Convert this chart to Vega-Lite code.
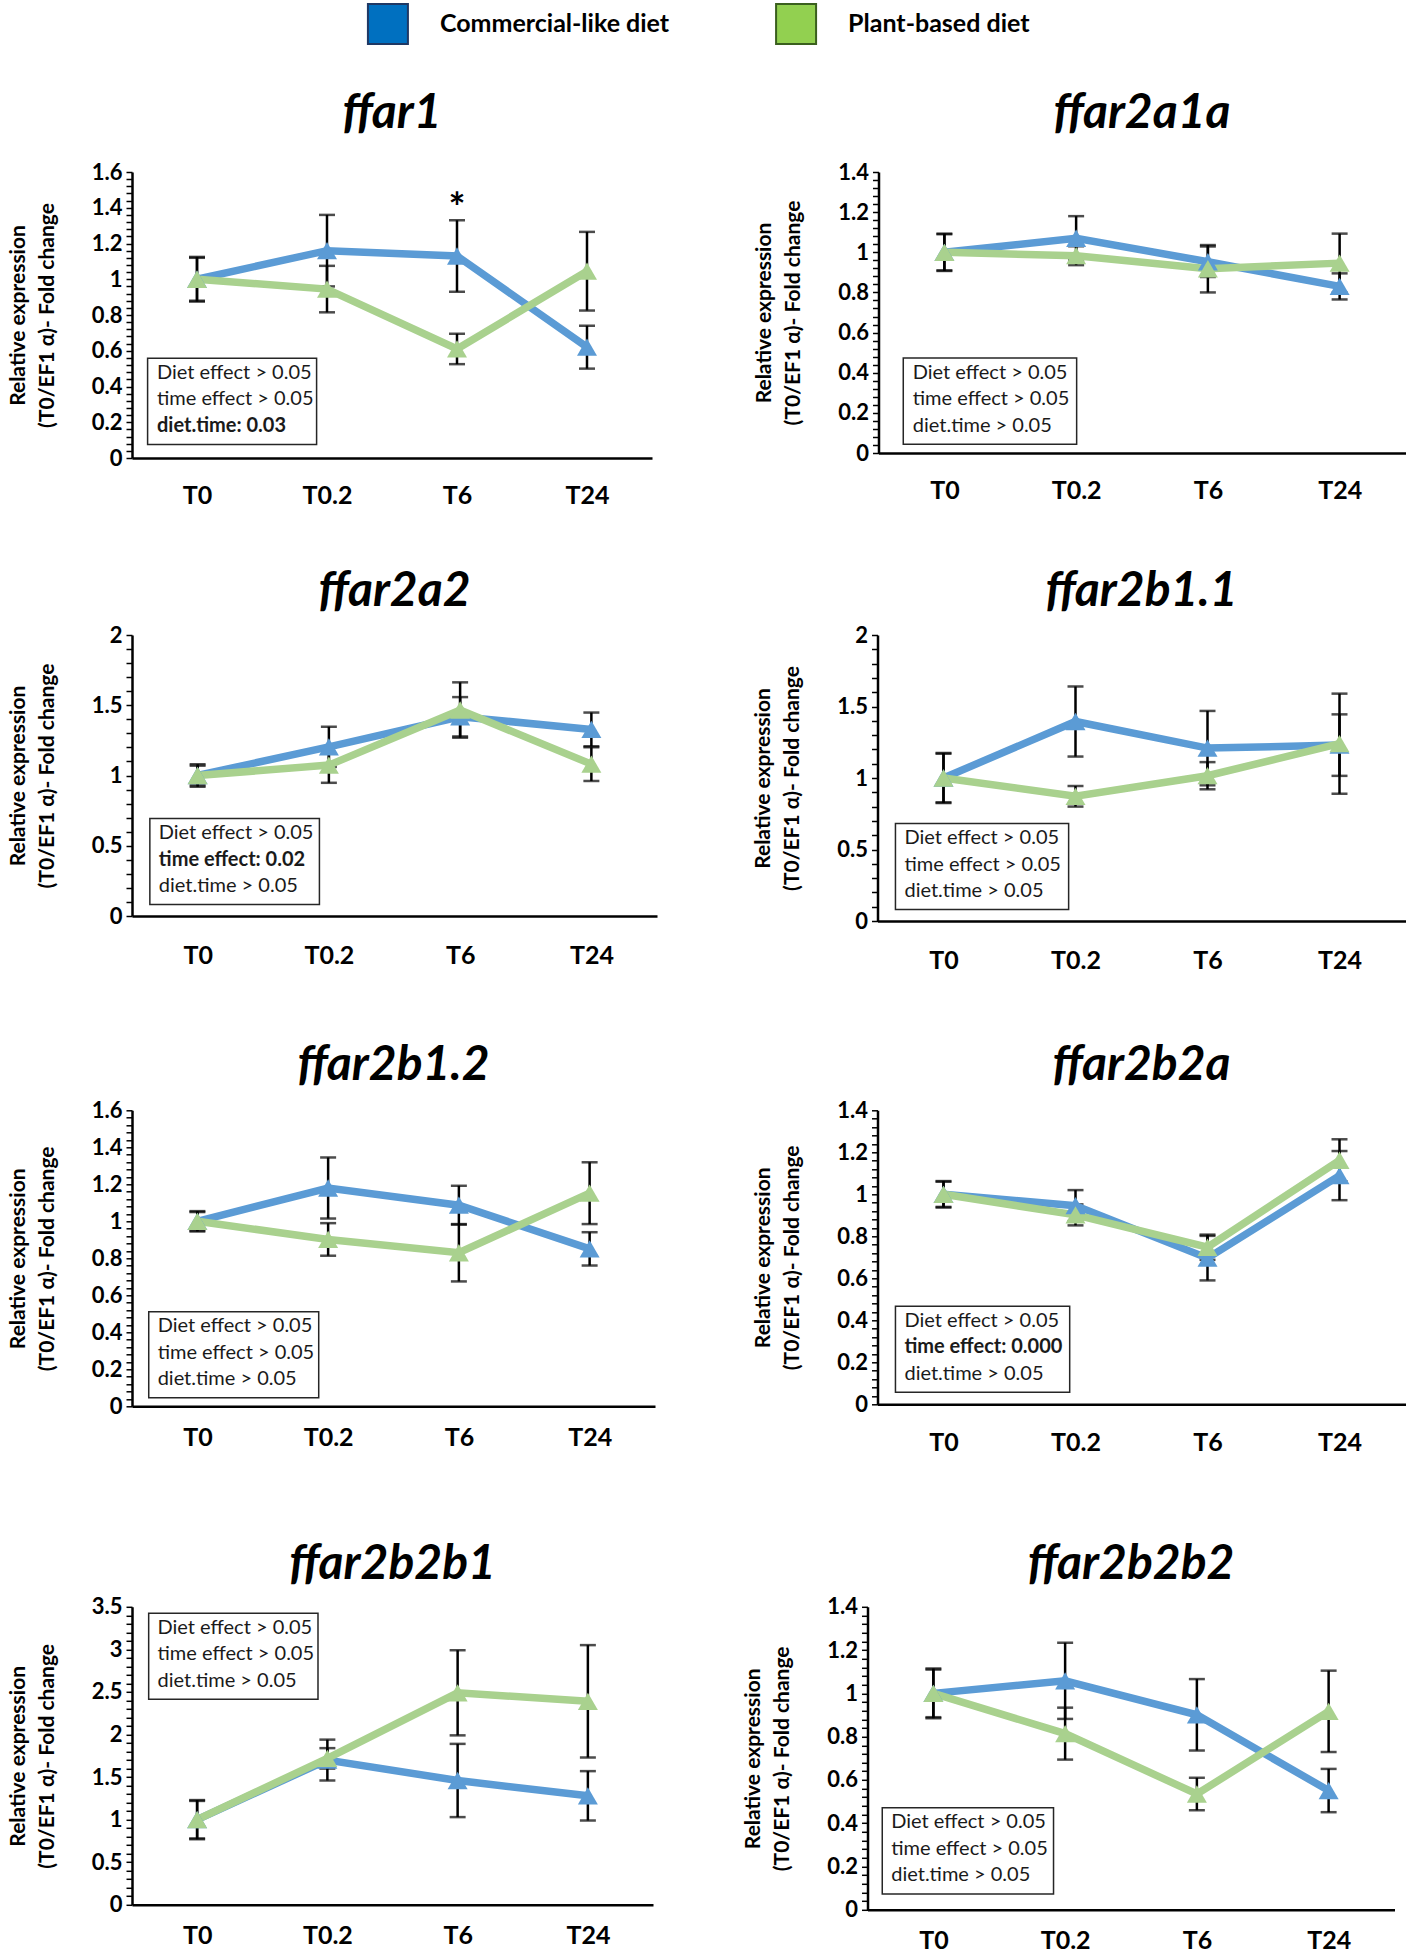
{
"$schema": "https://vega.github.io/schema/vega-lite/v6.json",
"background": "white",
"padding": {"left": 7, "top": 0, "right": 0, "bottom": 0},
"config": {
  "view": {"stroke": null},
  "font": "Lato",
  "title": {"font": "Lato", "fontSize": 48, "fontWeight": "bold", "fontStyle": "italic", "color": "black", "anchor": "middle", "frame": "group"},
  "axis": {"labelFont": "Lato", "titleFont": "Lato", "labelColor": "black", "titleColor": "black", "domainColor": "black", "tickColor": "black", "grid": false},
  "axisX": {"ticks": false, "labelAngle": 0, "labelPadding": 25, "labelFontSize": 25, "labelFontWeight": "bold", "domainWidth": 2.5},
  "axisY": {"labelFontSize": 22, "labelFontWeight": "bold", "labelPadding": 4, "tickSize": 6, "tickWidth": 1.5, "domainWidth": 2.5, "titleFontSize": 21, "titleFontWeight": "bold", "titleLineHeight": 29, "titlePadding": 34, "labelOverlap": false}
},
"resolve": {"scale": {"color": "independent", "stroke": "independent"}},
"datasets": {
  "ffar1": [
    {"diet": "Commercial-like diet", "time": "T0", "hours": 0, "mean": 1.0, "err": 0.12},
    {"diet": "Commercial-like diet", "time": "T0.2", "hours": 0.2, "mean": 1.16, "err": 0.2},
    {"diet": "Commercial-like diet", "time": "T6", "hours": 6, "mean": 1.13, "err": 0.2},
    {"diet": "Commercial-like diet", "time": "T24", "hours": 24, "mean": 0.62, "err": 0.12},
    {"diet": "Plant-based diet", "time": "T0", "hours": 0, "mean": 1.0, "err": 0.125},
    {"diet": "Plant-based diet", "time": "T0.2", "hours": 0.2, "mean": 0.945, "err": 0.13},
    {"diet": "Plant-based diet", "time": "T6", "hours": 6, "mean": 0.61, "err": 0.085},
    {"diet": "Plant-based diet", "time": "T24", "hours": 24, "mean": 1.045, "err": 0.22}
  ],
  "ffar2a1a": [
    {"diet": "Commercial-like diet", "time": "T0", "hours": 0, "mean": 1.0, "err": 0.09},
    {"diet": "Commercial-like diet", "time": "T0.2", "hours": 0.2, "mean": 1.07, "err": 0.11},
    {"diet": "Commercial-like diet", "time": "T6", "hours": 6, "mean": 0.953, "err": 0.076},
    {"diet": "Commercial-like diet", "time": "T24", "hours": 24, "mean": 0.83, "err": 0.065},
    {"diet": "Plant-based diet", "time": "T0", "hours": 0, "mean": 1.0, "err": 0.093},
    {"diet": "Plant-based diet", "time": "T0.2", "hours": 0.2, "mean": 0.983, "err": 0.047},
    {"diet": "Plant-based diet", "time": "T6", "hours": 6, "mean": 0.918, "err": 0.118},
    {"diet": "Plant-based diet", "time": "T24", "hours": 24, "mean": 0.946, "err": 0.147}
  ],
  "ffar2a2": [
    {"diet": "Commercial-like diet", "time": "T0", "hours": 0, "mean": 1.0, "err": 0.07},
    {"diet": "Commercial-like diet", "time": "T0.2", "hours": 0.2, "mean": 1.204, "err": 0.143},
    {"diet": "Commercial-like diet", "time": "T6", "hours": 6, "mean": 1.418, "err": 0.14},
    {"diet": "Commercial-like diet", "time": "T24", "hours": 24, "mean": 1.328, "err": 0.12},
    {"diet": "Plant-based diet", "time": "T0", "hours": 0, "mean": 1.0, "err": 0.08},
    {"diet": "Plant-based diet", "time": "T0.2", "hours": 0.2, "mean": 1.074, "err": 0.126},
    {"diet": "Plant-based diet", "time": "T6", "hours": 6, "mean": 1.466, "err": 0.197},
    {"diet": "Plant-based diet", "time": "T24", "hours": 24, "mean": 1.081, "err": 0.12}
  ],
  "ffar2b1_1": [
    {"diet": "Commercial-like diet", "time": "T0", "hours": 0, "mean": 1.0, "err": 0.175},
    {"diet": "Commercial-like diet", "time": "T0.2", "hours": 0.2, "mean": 1.395, "err": 0.245},
    {"diet": "Commercial-like diet", "time": "T6", "hours": 6, "mean": 1.209, "err": 0.26},
    {"diet": "Commercial-like diet", "time": "T24", "hours": 24, "mean": 1.23, "err": 0.215},
    {"diet": "Plant-based diet", "time": "T0", "hours": 0, "mean": 1.0, "err": 0.17},
    {"diet": "Plant-based diet", "time": "T0.2", "hours": 0.2, "mean": 0.872, "err": 0.072},
    {"diet": "Plant-based diet", "time": "T6", "hours": 6, "mean": 1.016, "err": 0.095},
    {"diet": "Plant-based diet", "time": "T24", "hours": 24, "mean": 1.24, "err": 0.35}
  ],
  "ffar2b1_2": [
    {"diet": "Commercial-like diet", "time": "T0", "hours": 0, "mean": 1.0, "err": 0.05},
    {"diet": "Commercial-like diet", "time": "T0.2", "hours": 0.2, "mean": 1.18, "err": 0.165},
    {"diet": "Commercial-like diet", "time": "T6", "hours": 6, "mean": 1.087, "err": 0.105},
    {"diet": "Commercial-like diet", "time": "T24", "hours": 24, "mean": 0.851, "err": 0.09},
    {"diet": "Plant-based diet", "time": "T0", "hours": 0, "mean": 1.0, "err": 0.055},
    {"diet": "Plant-based diet", "time": "T0.2", "hours": 0.2, "mean": 0.902, "err": 0.088},
    {"diet": "Plant-based diet", "time": "T6", "hours": 6, "mean": 0.83, "err": 0.155},
    {"diet": "Plant-based diet", "time": "T24", "hours": 24, "mean": 1.152, "err": 0.167}
  ],
  "ffar2b2a": [
    {"diet": "Commercial-like diet", "time": "T0", "hours": 0, "mean": 1.0, "err": 0.063},
    {"diet": "Commercial-like diet", "time": "T0.2", "hours": 0.2, "mean": 0.946, "err": 0.074},
    {"diet": "Commercial-like diet", "time": "T6", "hours": 6, "mean": 0.696, "err": 0.106},
    {"diet": "Commercial-like diet", "time": "T24", "hours": 24, "mean": 1.089, "err": 0.117},
    {"diet": "Plant-based diet", "time": "T0", "hours": 0, "mean": 1.0, "err": 0.06},
    {"diet": "Plant-based diet", "time": "T0.2", "hours": 0.2, "mean": 0.902, "err": 0.05},
    {"diet": "Plant-based diet", "time": "T6", "hours": 6, "mean": 0.748, "err": 0.06},
    {"diet": "Plant-based diet", "time": "T24", "hours": 24, "mean": 1.162, "err": 0.1}
  ],
  "ffar2b2b1": [
    {"diet": "Commercial-like diet", "time": "T0", "hours": 0, "mean": 1.0, "err": 0.23},
    {"diet": "Commercial-like diet", "time": "T0.2", "hours": 0.2, "mean": 1.7, "err": 0.24},
    {"diet": "Commercial-like diet", "time": "T6", "hours": 6, "mean": 1.46, "err": 0.43},
    {"diet": "Commercial-like diet", "time": "T24", "hours": 24, "mean": 1.28, "err": 0.29},
    {"diet": "Plant-based diet", "time": "T0", "hours": 0, "mean": 1.0, "err": 0.22},
    {"diet": "Plant-based diet", "time": "T0.2", "hours": 0.2, "mean": 1.72, "err": 0.12},
    {"diet": "Plant-based diet", "time": "T6", "hours": 6, "mean": 2.49, "err": 0.5},
    {"diet": "Plant-based diet", "time": "T24", "hours": 24, "mean": 2.39, "err": 0.66}
  ],
  "ffar2b2b2": [
    {"diet": "Commercial-like diet", "time": "T0", "hours": 0, "mean": 1.0, "err": 0.115},
    {"diet": "Commercial-like diet", "time": "T0.2", "hours": 0.2, "mean": 1.058, "err": 0.176},
    {"diet": "Commercial-like diet", "time": "T6", "hours": 6, "mean": 0.901, "err": 0.165},
    {"diet": "Commercial-like diet", "time": "T24", "hours": 24, "mean": 0.551, "err": 0.1},
    {"diet": "Plant-based diet", "time": "T0", "hours": 0, "mean": 1.0, "err": 0.11},
    {"diet": "Plant-based diet", "time": "T0.2", "hours": 0.2, "mean": 0.814, "err": 0.12},
    {"diet": "Plant-based diet", "time": "T6", "hours": 6, "mean": 0.535, "err": 0.075},
    {"diet": "Plant-based diet", "time": "T24", "hours": 24, "mean": 0.917, "err": 0.188}
  ],
  "ns": [
    {"line": 0, "text": "Diet effect > 0.05", "sig": false},
    {"line": 1, "text": "time effect > 0.05", "sig": false},
    {"line": 2, "text": "diet.time > 0.05", "sig": false}
  ]
},
"spacing": 41,
"vconcat": [
  {
    "width": 920, "height": 44,
    "data": {"values": [{"diet": "Commercial-like diet"}, {"diet": "Plant-based diet"}]},
    "encoding": {"x": {"field": "diet", "type": "nominal", "scale": {"type": "point", "padding": 0.627}, "axis": null}},
    "layer": [
      {"mark": {"type": "square", "size": 1600, "filled": true, "strokeWidth": 2, "opacity": 1},
       "encoding": {"color": {"field": "diet", "type": "nominal", "scale": {"range": ["#0070C0", "#92D050"]}, "legend": null},
                    "stroke": {"field": "diet", "type": "nominal", "scale": {"range": ["#1F3864", "#3A5F1E"]}, "legend": null}}},
      {"mark": {"type": "text", "align": "left", "baseline": "middle", "dx": 52, "font": "Lato", "fontSize": 25, "fontWeight": "bold", "color": "black"},
       "encoding": {"text": {"field": "diet"}}}
    ]
  },
  {"spacing": 59, "vconcat": [
    {"spacing": 101.5, "hconcat": [
      {"width": 520, "height": 286, "title": {"text": "ffar1", "offset": 23.5},
       "resolve": {"scale": {"x": "independent", "y": "independent"}},
       "layer": [
        {"data": {"name": "ffar1"},
         "encoding": {
           "x": {"field": "time", "type": "ordinal", "scale": {"type": "point", "domain": ["T0", "T0.2", "T6", "T24"], "padding": 0.5}, "axis": {"title": null}},
           "y": {"field": "mean", "type": "quantitative", "scale": {"domain": [0, 1.6], "nice": false}, "axis": {"title": ["Relative expression", "(T0/EF1 α)- Fold change"], "values": [0,0.04,0.08,0.12,0.16,0.2,0.24,0.28,0.32,0.36,0.4,0.44,0.48,0.52,0.56,0.6,0.64,0.68,0.72,0.76,0.8,0.84,0.88,0.92,0.96,1,1.04,1.08,1.12,1.16,1.2,1.24,1.28,1.32,1.36,1.4,1.44,1.48,1.52,1.56,1.6], "labelExpr": "abs(datum.value*5-round(datum.value*5))<0.001?format(datum.value,'.1~f'):''"}}
         },
         "layer": [
           {"mark": {"type": "errorbar", "ticks": {"size": 16}, "thickness": 2.5, "color": "black"}, "encoding": {"yError": {"field": "err"}}},
           {"mark": {"type": "line", "strokeWidth": 7.5}, "encoding": {"color": {"field": "diet", "type": "nominal", "scale": {"domain": ["Commercial-like diet", "Plant-based diet"], "range": ["#5B9BD5", "#A9D18E"]}, "legend": null}, "order": {"field": "hours", "type": "quantitative"}}},
           {"mark": {"type": "point", "shape": "triangle-up", "filled": true, "size": 400, "opacity": 1}, "encoding": {"color": {"field": "diet", "type": "nominal", "scale": {"domain": ["Commercial-like diet", "Plant-based diet"], "range": ["#5B9BD5", "#A9D18E"]}, "legend": null}}}
         ]},
        {"data": {"values": [{"time": "T6", "label": "*"}]},
         "mark": {"type": "text", "font": "Lato", "fontSize": 40, "fontWeight": "bold", "baseline": "middle", "align": "center", "color": "black"},
         "encoding": {
           "x": {"field": "time", "type": "ordinal", "scale": {"type": "point", "domain": ["T0", "T0.2", "T6", "T24"], "padding": 0.5}, "axis": null},
           "y": {"datum": 1.39, "type": "quantitative", "scale": {"domain": [0, 1.6], "nice": false, "zero": false}, "axis": null},
           "text": {"field": "label", "type": "nominal"}
         }},
        {"data": {"values": [{"line": 0, "text": "Diet effect > 0.05", "sig": false}, {"line": 1, "text": "time effect > 0.05", "sig": false}, {"line": 2, "text": "diet.time: 0.03", "sig": true}]},
         "encoding": {"x": {"datum": 0.048, "type": "quantitative", "scale": {"domain": [0, 1], "nice": false}, "axis": null},
                      "y": {"field": "line", "type": "quantitative", "scale": {"domain": [-7.58, 3.21], "reverse": true, "nice": false}, "axis": null}},
         "layer": [
           {"transform": [{"filter": "datum.line == 0"}], "mark": {"type": "rect", "fill": "white", "stroke": "#262626", "strokeWidth": 1.5},
            "encoding": {"x": {"datum": 0.03, "type": "quantitative"}, "x2": {"datum": 0.355}, "y": {"datum": -0.55, "type": "quantitative"}, "y2": {"datum": 2.7}}},
           {"transform": [{"filter": "!datum.sig"}], "mark": {"type": "text", "align": "left", "baseline": "middle", "fontSize": 20, "fontWeight": "normal", "color": "#1a1a1a"}, "encoding": {"text": {"field": "text"}}},
           {"transform": [{"filter": "datum.sig"}], "mark": {"type": "text", "align": "left", "baseline": "middle", "fontSize": 20, "fontWeight": "bold", "color": "#1a1a1a"}, "encoding": {"text": {"field": "text"}}}
         ]}
       ]},
      {"width": 527, "height": 281, "title": {"text": "ffar2a1a", "offset": 23.5},
       "resolve": {"scale": {"x": "independent", "y": "independent"}},
       "layer": [
        {"data": {"name": "ffar2a1a"},
         "encoding": {
           "x": {"field": "time", "type": "ordinal", "scale": {"type": "point", "domain": ["T0", "T0.2", "T6", "T24"], "padding": 0.5}, "axis": {"title": null}},
           "y": {"field": "mean", "type": "quantitative", "scale": {"domain": [0, 1.4], "nice": false}, "axis": {"title": ["Relative expression", "(T0/EF1 α)- Fold change"], "values": [0,0.04,0.08,0.12,0.16,0.2,0.24,0.28,0.32,0.36,0.4,0.44,0.48,0.52,0.56,0.6,0.64,0.68,0.72,0.76,0.8,0.84,0.88,0.92,0.96,1,1.04,1.08,1.12,1.16,1.2,1.24,1.28,1.32,1.36,1.4], "labelExpr": "abs(datum.value*5-round(datum.value*5))<0.001?format(datum.value,'.1~f'):''"}}
         },
         "layer": [
           {"mark": {"type": "errorbar", "ticks": {"size": 16}, "thickness": 2.5, "color": "black"}, "encoding": {"yError": {"field": "err"}}},
           {"mark": {"type": "line", "strokeWidth": 7.5}, "encoding": {"color": {"field": "diet", "type": "nominal", "scale": {"domain": ["Commercial-like diet", "Plant-based diet"], "range": ["#5B9BD5", "#A9D18E"]}, "legend": null}, "order": {"field": "hours", "type": "quantitative"}}},
           {"mark": {"type": "point", "shape": "triangle-up", "filled": true, "size": 400, "opacity": 1}, "encoding": {"color": {"field": "diet", "type": "nominal", "scale": {"domain": ["Commercial-like diet", "Plant-based diet"], "range": ["#5B9BD5", "#A9D18E"]}, "legend": null}}}
         ]},
        {"data": {"name": "ns"},
         "encoding": {"x": {"datum": 0.065, "type": "quantitative", "scale": {"domain": [0, 1], "nice": false}, "axis": null},
                      "y": {"field": "line", "type": "quantitative", "scale": {"domain": [-7.57, 3.03], "reverse": true, "nice": false}, "axis": null}},
         "layer": [
           {"transform": [{"filter": "datum.line == 0"}], "mark": {"type": "rect", "fill": "white", "stroke": "#262626", "strokeWidth": 1.5},
            "encoding": {"x": {"datum": 0.047, "type": "quantitative"}, "x2": {"datum": 0.376}, "y": {"datum": -0.55, "type": "quantitative"}, "y2": {"datum": 2.7}}},
           {"mark": {"type": "text", "align": "left", "baseline": "middle", "fontSize": 20, "fontWeight": "normal", "color": "#1a1a1a"}, "encoding": {"text": {"field": "text"}}}
         ]}
       ]}
    ]},
    {"spacing": 67.3, "vconcat": [
      {"spacing": 95.5, "hconcat": [
        {"width": 525, "height": 281, "title": {"text": "ffar2a2", "offset": 8.3},
         "resolve": {"scale": {"x": "independent", "y": "independent"}},
         "layer": [
          {"data": {"name": "ffar2a2"},
           "encoding": {
             "x": {"field": "time", "type": "ordinal", "scale": {"type": "point", "domain": ["T0", "T0.2", "T6", "T24"], "padding": 0.5}, "axis": {"title": null, "labelPadding": 27.5}},
             "y": {"field": "mean", "type": "quantitative", "scale": {"domain": [0, 2], "nice": false}, "axis": {"title": ["Relative expression", "(T0/EF1 α)- Fold change"], "values": [0,0.1,0.2,0.3,0.4,0.5,0.6,0.7,0.8,0.9,1,1.1,1.2,1.3,1.4,1.5,1.6,1.7,1.8,1.9,2], "labelExpr": "abs(datum.value*2-round(datum.value*2))<0.001?format(datum.value,'.1~f'):''"}}
           },
           "layer": [
             {"mark": {"type": "errorbar", "ticks": {"size": 16}, "thickness": 2.5, "color": "black"}, "encoding": {"yError": {"field": "err"}}},
             {"mark": {"type": "line", "strokeWidth": 7.5}, "encoding": {"color": {"field": "diet", "type": "nominal", "scale": {"domain": ["Commercial-like diet", "Plant-based diet"], "range": ["#5B9BD5", "#A9D18E"]}, "legend": null}, "order": {"field": "hours", "type": "quantitative"}}},
             {"mark": {"type": "point", "shape": "triangle-up", "filled": true, "size": 400, "opacity": 1}, "encoding": {"color": {"field": "diet", "type": "nominal", "scale": {"domain": ["Commercial-like diet", "Plant-based diet"], "range": ["#5B9BD5", "#A9D18E"]}, "legend": null}}}
           ]},
          {"data": {"values": [{"line": 0, "text": "Diet effect > 0.05", "sig": false}, {"line": 1, "text": "time effect: 0.02", "sig": true}, {"line": 2, "text": "diet.time > 0.05", "sig": false}]},
           "encoding": {"x": {"datum": 0.051, "type": "quantitative", "scale": {"domain": [0, 1], "nice": false}, "axis": null},
                        "y": {"field": "line", "type": "quantitative", "scale": {"domain": [-7.47, 3.13], "reverse": true, "nice": false}, "axis": null}},
           "layer": [
             {"transform": [{"filter": "datum.line == 0"}], "mark": {"type": "rect", "fill": "white", "stroke": "#262626", "strokeWidth": 1.5},
              "encoding": {"x": {"datum": 0.034, "type": "quantitative"}, "x2": {"datum": 0.357}, "y": {"datum": -0.55, "type": "quantitative"}, "y2": {"datum": 2.7}}},
             {"transform": [{"filter": "!datum.sig"}], "mark": {"type": "text", "align": "left", "baseline": "middle", "fontSize": 20, "fontWeight": "normal", "color": "#1a1a1a"}, "encoding": {"text": {"field": "text"}}},
             {"transform": [{"filter": "datum.sig"}], "mark": {"type": "text", "align": "left", "baseline": "middle", "fontSize": 20, "fontWeight": "bold", "color": "#1a1a1a"}, "encoding": {"text": {"field": "text"}}}
           ]}
         ]},
        {"width": 528, "height": 286, "title": {"text": "ffar2b1.1", "offset": 8.3},
         "resolve": {"scale": {"x": "independent", "y": "independent"}},
         "layer": [
          {"data": {"name": "ffar2b1_1"},
           "encoding": {
             "x": {"field": "time", "type": "ordinal", "scale": {"type": "point", "domain": ["T0", "T0.2", "T6", "T24"], "padding": 0.5}, "axis": {"title": null, "labelPadding": 27.5}},
             "y": {"field": "mean", "type": "quantitative", "scale": {"domain": [0, 2], "nice": false}, "axis": {"title": ["Relative expression", "(T0/EF1 α)- Fold change"], "values": [0,0.1,0.2,0.3,0.4,0.5,0.6,0.7,0.8,0.9,1,1.1,1.2,1.3,1.4,1.5,1.6,1.7,1.8,1.9,2], "labelExpr": "abs(datum.value*2-round(datum.value*2))<0.001?format(datum.value,'.1~f'):''"}}
           },
           "layer": [
             {"mark": {"type": "errorbar", "ticks": {"size": 16}, "thickness": 2.5, "color": "black"}, "encoding": {"yError": {"field": "err"}}},
             {"mark": {"type": "line", "strokeWidth": 7.5}, "encoding": {"color": {"field": "diet", "type": "nominal", "scale": {"domain": ["Commercial-like diet", "Plant-based diet"], "range": ["#5B9BD5", "#A9D18E"]}, "legend": null}, "order": {"field": "hours", "type": "quantitative"}}},
             {"mark": {"type": "point", "shape": "triangle-up", "filled": true, "size": 400, "opacity": 1}, "encoding": {"color": {"field": "diet", "type": "nominal", "scale": {"domain": ["Commercial-like diet", "Plant-based diet"], "range": ["#5B9BD5", "#A9D18E"]}, "legend": null}}}
           ]},
          {"data": {"name": "ns"},
           "encoding": {"x": {"datum": 0.051, "type": "quantitative", "scale": {"domain": [0, 1], "nice": false}, "axis": null},
                        "y": {"field": "line", "type": "quantitative", "scale": {"domain": [-7.66, 3.13], "reverse": true, "nice": false}, "axis": null}},
           "layer": [
             {"transform": [{"filter": "datum.line == 0"}], "mark": {"type": "rect", "fill": "white", "stroke": "#262626", "strokeWidth": 1.5},
              "encoding": {"x": {"datum": 0.034, "type": "quantitative"}, "x2": {"datum": 0.362}, "y": {"datum": -0.55, "type": "quantitative"}, "y2": {"datum": 2.7}}},
             {"mark": {"type": "text", "align": "left", "baseline": "middle", "fontSize": 20, "fontWeight": "normal", "color": "#1a1a1a"}, "encoding": {"text": {"field": "text"}}}
           ]}
         ]}
      ]},
      {"spacing": 85.5, "vconcat": [
        {"spacing": 97.5, "hconcat": [
          {"width": 523, "height": 296, "title": {"text": "ffar2b1.2", "offset": 9.5},
           "resolve": {"scale": {"x": "independent", "y": "independent"}},
           "layer": [
            {"data": {"name": "ffar2b1_2"},
             "encoding": {
               "x": {"field": "time", "type": "ordinal", "scale": {"type": "point", "domain": ["T0", "T0.2", "T6", "T24"], "padding": 0.5}, "axis": {"title": null, "labelPadding": 19}},
               "y": {"field": "mean", "type": "quantitative", "scale": {"domain": [0, 1.6], "nice": false}, "axis": {"title": ["Relative expression", "(T0/EF1 α)- Fold change"], "values": [0,0.04,0.08,0.12,0.16,0.2,0.24,0.28,0.32,0.36,0.4,0.44,0.48,0.52,0.56,0.6,0.64,0.68,0.72,0.76,0.8,0.84,0.88,0.92,0.96,1,1.04,1.08,1.12,1.16,1.2,1.24,1.28,1.32,1.36,1.4,1.44,1.48,1.52,1.56,1.6], "labelExpr": "abs(datum.value*5-round(datum.value*5))<0.001?format(datum.value,'.1~f'):''"}}
             },
             "layer": [
               {"mark": {"type": "errorbar", "ticks": {"size": 16}, "thickness": 2.5, "color": "black"}, "encoding": {"yError": {"field": "err"}}},
               {"mark": {"type": "line", "strokeWidth": 7.5}, "encoding": {"color": {"field": "diet", "type": "nominal", "scale": {"domain": ["Commercial-like diet", "Plant-based diet"], "range": ["#5B9BD5", "#A9D18E"]}, "legend": null}, "order": {"field": "hours", "type": "quantitative"}}},
               {"mark": {"type": "point", "shape": "triangle-up", "filled": true, "size": 400, "opacity": 1}, "encoding": {"color": {"field": "diet", "type": "nominal", "scale": {"domain": ["Commercial-like diet", "Plant-based diet"], "range": ["#5B9BD5", "#A9D18E"]}, "legend": null}}}
             ]},
            {"data": {"name": "ns"},
             "encoding": {"x": {"datum": 0.049, "type": "quantitative", "scale": {"domain": [0, 1], "nice": false}, "axis": null},
                          "y": {"field": "line", "type": "quantitative", "scale": {"domain": [-8.15, 3.02], "reverse": true, "nice": false}, "axis": null}},
             "layer": [
               {"transform": [{"filter": "datum.line == 0"}], "mark": {"type": "rect", "fill": "white", "stroke": "#262626", "strokeWidth": 1.5},
                "encoding": {"x": {"datum": 0.032, "type": "quantitative"}, "x2": {"datum": 0.357}, "y": {"datum": -0.55, "type": "quantitative"}, "y2": {"datum": 2.7}}},
               {"mark": {"type": "text", "align": "left", "baseline": "middle", "fontSize": 20, "fontWeight": "normal", "color": "#1a1a1a"}, "encoding": {"text": {"field": "text"}}}
             ]}
           ]},
          {"width": 528, "height": 294, "title": {"text": "ffar2b2a", "offset": 9.5},
           "resolve": {"scale": {"x": "independent", "y": "independent"}},
           "layer": [
            {"data": {"name": "ffar2b2a"},
             "encoding": {
               "x": {"field": "time", "type": "ordinal", "scale": {"type": "point", "domain": ["T0", "T0.2", "T6", "T24"], "padding": 0.5}, "axis": {"title": null, "labelPadding": 26}},
               "y": {"field": "mean", "type": "quantitative", "scale": {"domain": [0, 1.4], "nice": false}, "axis": {"title": ["Relative expression", "(T0/EF1 α)- Fold change"], "values": [0,0.04,0.08,0.12,0.16,0.2,0.24,0.28,0.32,0.36,0.4,0.44,0.48,0.52,0.56,0.6,0.64,0.68,0.72,0.76,0.8,0.84,0.88,0.92,0.96,1,1.04,1.08,1.12,1.16,1.2,1.24,1.28,1.32,1.36,1.4], "labelExpr": "abs(datum.value*5-round(datum.value*5))<0.001?format(datum.value,'.1~f'):''"}}
             },
             "layer": [
               {"mark": {"type": "errorbar", "ticks": {"size": 16}, "thickness": 2.5, "color": "black"}, "encoding": {"yError": {"field": "err"}}},
               {"mark": {"type": "line", "strokeWidth": 7.5}, "encoding": {"color": {"field": "diet", "type": "nominal", "scale": {"domain": ["Commercial-like diet", "Plant-based diet"], "range": ["#5B9BD5", "#A9D18E"]}, "legend": null}, "order": {"field": "hours", "type": "quantitative"}}},
               {"mark": {"type": "point", "shape": "triangle-up", "filled": true, "size": 400, "opacity": 1}, "encoding": {"color": {"field": "diet", "type": "nominal", "scale": {"domain": ["Commercial-like diet", "Plant-based diet"], "range": ["#5B9BD5", "#A9D18E"]}, "legend": null}}}
             ]},
            {"data": {"values": [{"line": 0, "text": "Diet effect > 0.05", "sig": false}, {"line": 1, "text": "time effect: 0.000", "sig": true}, {"line": 2, "text": "diet.time > 0.05", "sig": false}]},
             "encoding": {"x": {"datum": 0.051, "type": "quantitative", "scale": {"domain": [0, 1], "nice": false}, "axis": null},
                          "y": {"field": "line", "type": "quantitative", "scale": {"domain": [-7.94, 3.15], "reverse": true, "nice": false}, "axis": null}},
             "layer": [
               {"transform": [{"filter": "datum.line == 0"}], "mark": {"type": "rect", "fill": "white", "stroke": "#262626", "strokeWidth": 1.5},
                "encoding": {"x": {"datum": 0.034, "type": "quantitative"}, "x2": {"datum": 0.364}, "y": {"datum": -0.55, "type": "quantitative"}, "y2": {"datum": 2.7}}},
               {"transform": [{"filter": "!datum.sig"}], "mark": {"type": "text", "align": "left", "baseline": "middle", "fontSize": 20, "fontWeight": "normal", "color": "#1a1a1a"}, "encoding": {"text": {"field": "text"}}},
               {"transform": [{"filter": "datum.sig"}], "mark": {"type": "text", "align": "left", "baseline": "middle", "fontSize": 20, "fontWeight": "bold", "color": "#1a1a1a"}, "encoding": {"text": {"field": "text"}}}
             ]}
           ]}
        ]},
        {"spacing": 89.5, "hconcat": [
          {"width": 521, "height": 298, "title": {"text": "ffar2b2b1", "offset": 7},
           "resolve": {"scale": {"x": "independent", "y": "independent"}},
           "layer": [
            {"data": {"name": "ffar2b2b1"},
             "encoding": {
               "x": {"field": "time", "type": "ordinal", "scale": {"type": "point", "domain": ["T0", "T0.2", "T6", "T24"], "padding": 0.5}, "axis": {"title": null, "labelPadding": 19}},
               "y": {"field": "mean", "type": "quantitative", "scale": {"domain": [0, 3.5], "nice": false}, "axis": {"title": ["Relative expression", "(T0/EF1 α)- Fold change"], "values": [0,0.1,0.2,0.3,0.4,0.5,0.6,0.7,0.8,0.9,1,1.1,1.2,1.3,1.4,1.5,1.6,1.7,1.8,1.9,2,2.1,2.2,2.3,2.4,2.5,2.6,2.7,2.8,2.9,3,3.1,3.2,3.3,3.4,3.5], "labelExpr": "abs(datum.value*2-round(datum.value*2))<0.001?format(datum.value,'.1~f'):''"}}
             },
             "layer": [
               {"mark": {"type": "errorbar", "ticks": {"size": 16}, "thickness": 2.5, "color": "black"}, "encoding": {"yError": {"field": "err"}}},
               {"mark": {"type": "line", "strokeWidth": 7.5}, "encoding": {"color": {"field": "diet", "type": "nominal", "scale": {"domain": ["Commercial-like diet", "Plant-based diet"], "range": ["#5B9BD5", "#A9D18E"]}, "legend": null}, "order": {"field": "hours", "type": "quantitative"}}},
               {"mark": {"type": "point", "shape": "triangle-up", "filled": true, "size": 400, "opacity": 1}, "encoding": {"color": {"field": "diet", "type": "nominal", "scale": {"domain": ["Commercial-like diet", "Plant-based diet"], "range": ["#5B9BD5", "#A9D18E"]}, "legend": null}}}
             ]},
            {"data": {"name": "ns"},
             "encoding": {"x": {"datum": 0.049, "type": "quantitative", "scale": {"domain": [0, 1], "nice": false}, "axis": null},
                          "y": {"field": "line", "type": "quantitative", "scale": {"domain": [-0.79, 10.46], "reverse": true, "nice": false}, "axis": null}},
             "layer": [
               {"transform": [{"filter": "datum.line == 0"}], "mark": {"type": "rect", "fill": "white", "stroke": "#262626", "strokeWidth": 1.5},
                "encoding": {"x": {"datum": 0.032, "type": "quantitative"}, "x2": {"datum": 0.357}, "y": {"datum": -0.55, "type": "quantitative"}, "y2": {"datum": 2.7}}},
               {"mark": {"type": "text", "align": "left", "baseline": "middle", "fontSize": 20, "fontWeight": "normal", "color": "#1a1a1a"}, "encoding": {"text": {"field": "text"}}}
             ]}
           ]},
          {"width": 527, "height": 303, "title": {"text": "ffar2b2b2", "offset": 7},
           "resolve": {"scale": {"x": "independent", "y": "independent"}},
           "layer": [
            {"data": {"name": "ffar2b2b2"},
             "encoding": {
               "x": {"field": "time", "type": "ordinal", "scale": {"type": "point", "domain": ["T0", "T0.2", "T6", "T24"], "padding": 0.5}, "axis": {"title": null, "labelPadding": 19}},
               "y": {"field": "mean", "type": "quantitative", "scale": {"domain": [0, 1.4], "nice": false}, "axis": {"title": ["Relative expression", "(T0/EF1 α)- Fold change"], "values": [0,0.04,0.08,0.12,0.16,0.2,0.24,0.28,0.32,0.36,0.4,0.44,0.48,0.52,0.56,0.6,0.64,0.68,0.72,0.76,0.8,0.84,0.88,0.92,0.96,1,1.04,1.08,1.12,1.16,1.2,1.24,1.28,1.32,1.36,1.4], "labelExpr": "abs(datum.value*5-round(datum.value*5))<0.001?format(datum.value,'.1~f'):''"}}
             },
             "layer": [
               {"mark": {"type": "errorbar", "ticks": {"size": 16}, "thickness": 2.5, "color": "black"}, "encoding": {"yError": {"field": "err"}}},
               {"mark": {"type": "line", "strokeWidth": 7.5}, "encoding": {"color": {"field": "diet", "type": "nominal", "scale": {"domain": ["Commercial-like diet", "Plant-based diet"], "range": ["#5B9BD5", "#A9D18E"]}, "legend": null}, "order": {"field": "hours", "type": "quantitative"}}},
               {"mark": {"type": "point", "shape": "triangle-up", "filled": true, "size": 400, "opacity": 1}, "encoding": {"color": {"field": "diet", "type": "nominal", "scale": {"domain": ["Commercial-like diet", "Plant-based diet"], "range": ["#5B9BD5", "#A9D18E"]}, "legend": null}}}
             ]},
            {"data": {"name": "ns"},
             "encoding": {"x": {"datum": 0.045, "type": "quantitative", "scale": {"domain": [0, 1], "nice": false}, "axis": null},
                          "y": {"field": "line", "type": "quantitative", "scale": {"domain": [-8.13, 3.30], "reverse": true, "nice": false}, "axis": null}},
             "layer": [
               {"transform": [{"filter": "datum.line == 0"}], "mark": {"type": "rect", "fill": "white", "stroke": "#262626", "strokeWidth": 1.5},
                "encoding": {"x": {"datum": 0.028, "type": "quantitative"}, "x2": {"datum": 0.353}, "y": {"datum": -0.55, "type": "quantitative"}, "y2": {"datum": 2.7}}},
               {"mark": {"type": "text", "align": "left", "baseline": "middle", "fontSize": 20, "fontWeight": "normal", "color": "#1a1a1a"}, "encoding": {"text": {"field": "text"}}}
             ]}
           ]}
        ]}
      ]}
    ]}
  ]}
]
}
